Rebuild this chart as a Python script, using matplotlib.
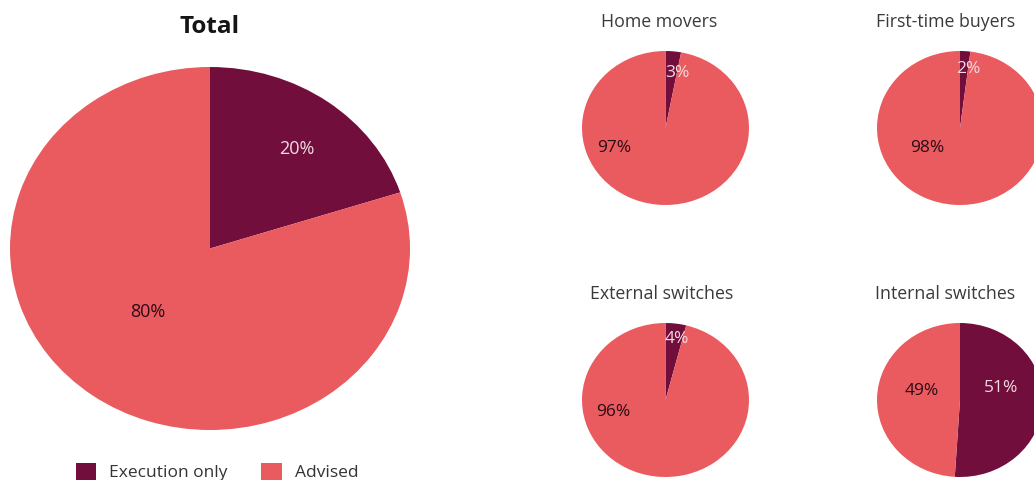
import matplotlib.pyplot as plt
import numpy as np

plt.rcParams['font.family'] = ['Open Sans', 'DejaVu Sans']

# Data
categories = ["Execution only", "Advised"]
total = [20, 80]
groups = ["Home movers", "First-time buyers", "External switches", "Internal switches"]
execution_only = [3, 2, 4, 51]
advised = [97, 98, 96, 49]

dark = '#720e3c'
light = '#e95b5e'
W, H = 1034, 480

fig = plt.figure(figsize=(W / 100, H / 100), dpi=100)


def pix_axes(x0, y0, x1, y1):
    # axes from pixel box (top-left origin)
    return fig.add_axes([x0 / W, 1 - y1 / H, (x1 - x0) / W, (y1 - y0) / H])


def draw_pie(ax, values, label_pos, fs):
    wedges, _ = ax.pie(values, colors=[dark, light], startangle=90,
                       counterclock=False, radius=1,
                       wedgeprops=dict(linewidth=0))
    ax.set_aspect('auto')
    ax.set_xlim(-1, 1)
    ax.set_ylim(-1, 1)
    ax.axis('off')
    text_colors = ['#f3dbe2', '#2a0b16']
    for v, (dx, dy), c in zip(values, label_pos, text_colors):
        ax.text(dx, dy, f"{v}%", ha='center', va='center', fontsize=fs, color=c)
    return wedges


# Total pie
ax = pix_axes(10, 67, 410, 430)
wedges = draw_pie(ax, total, [(0.435, 0.547), (-0.31, -0.348)], 13)
fig.text(210 / W, 1 - 27 / H, "Total", ha='center', va='center',
         fontsize=17.5, fontweight='bold', color='#151515')

# Small pies
boxes = [(582, 51, 749, 205), (877, 51, 1043, 205),
         (582, 323, 749, 477), (877, 323, 1043, 477)]
title_x = [659, 946, 662, 945]
label_positions = [
    [(0.14, 0.71), (-0.62, -0.26)],
    [(0.10, 0.77), (-0.40, -0.26)],
    [(0.14, 0.79), (-0.62, -0.16)],
    [(0.50, 0.16), (-0.46, 0.12)],
]
for g, e, a, box, lp, tx in zip(groups, execution_only, advised, boxes,
                                label_positions, title_x):
    ax = pix_axes(*box)
    draw_pie(ax, [e, a], lp, 12.5)
    fig.text(tx / W, 1 - (box[1] - 29) / H, g, ha='center', va='center',
             fontsize=12.8, color='#3a3a3a')

fig.legend(wedges, categories, ncol=2, frameon=False, loc='center left',
           bbox_to_anchor=(60 / W, 1 - 472 / H), fontsize=12.5,
           handlelength=1.2, handleheight=1.2, handletextpad=0.75,
           columnspacing=1.9, labelcolor='#333333')

plt.savefig("out.png", dpi=100)
